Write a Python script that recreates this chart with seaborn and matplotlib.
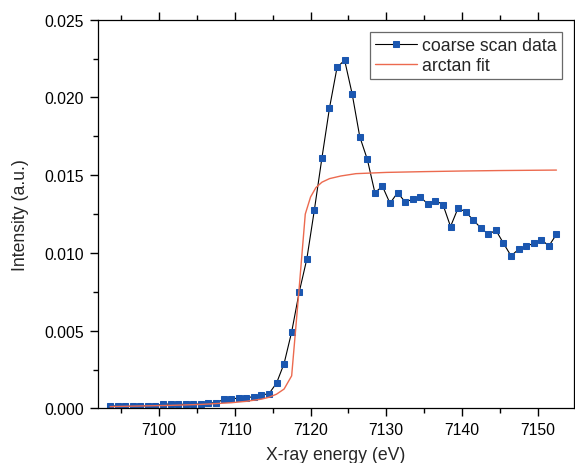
import numpy as np
import pandas as pd
import matplotlib
matplotlib.use("Agg")
import matplotlib.pyplot as plt
from matplotlib.ticker import MultipleLocator
import seaborn as sns

# coarse scan data (1 eV steps)
energy = [7093.5, 7094.5, 7095.5, 7096.5, 7097.5, 7098.5, 7099.5, 7100.5, 7101.5, 7102.5,
          7103.5, 7104.5, 7105.5, 7106.5, 7107.5, 7108.5, 7109.5, 7110.5, 7111.5, 7112.5,
          7113.5, 7114.5, 7115.5, 7116.5, 7117.5, 7118.5, 7119.5, 7120.5, 7121.5, 7122.5,
          7123.5, 7124.5, 7125.5, 7126.5, 7127.5, 7128.5, 7129.5, 7130.5, 7131.5, 7132.5,
          7133.5, 7134.5, 7135.5, 7136.5, 7137.5, 7138.5, 7139.5, 7140.5, 7141.5, 7142.5,
          7143.5, 7144.5, 7145.5, 7146.5, 7147.5, 7148.5, 7149.5, 7150.5, 7151.5, 7152.5]
intensity = [0.00017, 0.00015, 0.00015, 0.00014, 0.00017, 0.00017, 0.00015, 0.00030, 0.00027, 0.00027,
             0.00027, 0.00030, 0.00027, 0.00036, 0.00036, 0.00058, 0.00060, 0.00068, 0.00068, 0.00077,
             0.00087, 0.00095, 0.00163, 0.00289, 0.00492, 0.00749, 0.00960, 0.01276, 0.01611, 0.01932,
             0.02193, 0.02240, 0.02022, 0.01748, 0.01602, 0.01388, 0.01429, 0.01319, 0.01388, 0.01328,
             0.01345, 0.01360, 0.01315, 0.01337, 0.01311, 0.01170, 0.01289, 0.01264, 0.01212, 0.01161,
             0.01120, 0.01146, 0.01062, 0.00981, 0.01024, 0.01043, 0.01062, 0.01086, 0.01045, 0.01120]

# arctan fit curve
fit_energy = [7093.5, 7097.5, 7101.5, 7105.5, 7109.5, 7111.5, 7113.5, 7114.5, 7115.5, 7116.5,
              7117.5, 7118.4, 7119.3, 7120.0, 7120.7, 7121.5, 7122.5, 7124.0, 7126.0, 7130.0,
              7135.0, 7140.0, 7145.0, 7152.5]
fit_intensity = [0.00012, 0.00016, 0.00020, 0.00026, 0.00037, 0.00046, 0.00060, 0.00072, 0.00092, 0.00125,
                 0.00210, 0.00720, 0.01250, 0.01360, 0.01420, 0.01455, 0.01478, 0.01495, 0.01510, 0.01518,
                 0.01523, 0.01527, 0.01530, 0.01533]

scan = pd.DataFrame({"energy": energy, "intensity": intensity})
fit = pd.DataFrame({"energy": fit_energy, "intensity": fit_intensity})

sns.set_theme(style="ticks")
plt.rcParams["font.family"] = ["Liberation Sans", "DejaVu Sans"]

fig = plt.figure(figsize=(5.75, 4.64), dpi=100)
ax = fig.add_axes([0.1704, 0.1175, 0.8276, 0.8379])

sns.lineplot(data=scan, x="energy", y="intensity", ax=ax, color="black", lw=0.8,
             marker="s", markersize=4.3, markerfacecolor="#1b57b0", markeredgecolor="#1b57b0",
             label="coarse scan data")
sns.lineplot(data=fit, x="energy", y="intensity", ax=ax, color="#ec6a4f", lw=1.0,
             label="arctan fit")

ax.set_xlim(7091.9, 7154.8)
ax.set_ylim(0, 0.025)
ax.xaxis.set_major_locator(MultipleLocator(10))
ax.xaxis.set_minor_locator(MultipleLocator(5))
ax.yaxis.set_major_locator(MultipleLocator(0.005))
ax.yaxis.set_minor_locator(MultipleLocator(0.0025))
ax.yaxis.set_major_formatter(plt.FormatStrFormatter("%.3f"))

ax.tick_params(which="both", direction="out", top=True, right=False, width=1.0,
               colors="black", labelsize=11.3, pad=4)
ax.tick_params(which="major", length=6)
ax.tick_params(which="minor", length=3.5)
ax.tick_params(axis="x", which="both", labeltop=False)

for s in ax.spines.values():
    s.set_color("black")
    s.set_linewidth(0.9)

ax.set_xlabel("X-ray energy (eV)", fontsize=12.7, labelpad=6)
ax.set_ylabel("Intensity (a.u.)", fontsize=12.7, labelpad=11)

leg = ax.legend(loc="upper right", fontsize=12.7, frameon=True, fancybox=False,
                edgecolor="#444444", handlelength=2.4, handletextpad=0.25,
                borderaxespad=0.7, borderpad=0.3, labelspacing=0.15, numpoints=1)
leg.get_frame().set_linewidth(0.9)

fig.savefig("out.png", dpi=100)
